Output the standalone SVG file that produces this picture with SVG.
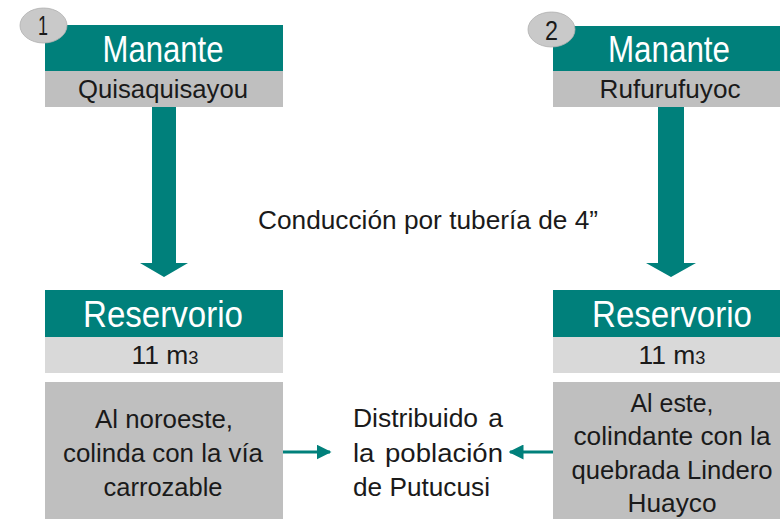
<svg xmlns="http://www.w3.org/2000/svg" width="780" height="519" viewBox="0 0 780 519">
<defs>
<style>
text{font-family:"Liberation Sans Narrow","Liberation Sans",Arial,sans-serif;fill:#1a1a1a}
.teal{fill:#00807b}
.g1{fill:#bfbfbf}
.g2{fill:#d9d9d9}
.title{font-size:36px;fill:#ffffff;text-anchor:middle}
.sub{font-size:26px;text-anchor:middle}
.body{font-size:26px;text-anchor:middle}
.left{text-anchor:start}
.num{font-size:27px;text-anchor:middle}
.badge{fill:#c9c9c9;stroke:#b0b0b0;stroke-width:0.8}
.conn{stroke:#00807b;stroke-width:3;fill:none}
</style>
<marker id="ah" viewBox="0 0 10 10" refX="9" refY="5" markerWidth="5" markerHeight="5" orient="auto" markerUnits="strokeWidth">
<path d="M0,0 L10,5 L0,10 z" fill="#00807b"/>
</marker>
</defs>

<g id="manante1">
<rect class="teal" x="45" y="25" width="238" height="46"/>
<rect class="g1" x="45" y="71" width="238" height="36"/>
<text class="title" x="163" y="62" textLength="121" lengthAdjust="spacingAndGlyphs">Manante</text>
<text class="sub" x="163" y="98" textLength="170" lengthAdjust="spacingAndGlyphs">Quisaquisayou</text>
</g>
<g id="badge1">
<ellipse class="badge" cx="43.5" cy="25.5" rx="23.5" ry="17.5"/>
<text class="num" x="43" y="35" textLength="10" lengthAdjust="spacingAndGlyphs">1</text>
</g>

<g id="manante2">
<rect class="teal" x="553" y="26" width="240" height="45"/>
<rect class="g1" x="553" y="71" width="240" height="36"/>
<text class="title" x="669" y="62" textLength="122" lengthAdjust="spacingAndGlyphs">Manante</text>
<text class="sub" x="670" y="98" textLength="141" lengthAdjust="spacingAndGlyphs">Rufurufuyoc</text>
</g>
<g id="badge2">
<ellipse class="badge" cx="551.5" cy="29.5" rx="23.5" ry="17.5"/>
<text class="num" x="551.5" y="40" textLength="13" lengthAdjust="spacingAndGlyphs">2</text>
</g>

<g id="reservorio1">
<rect class="teal" x="45" y="290" width="238" height="47"/>
<rect class="g2" x="45" y="337" width="238" height="36"/>
<text class="title" x="163" y="327" textLength="160" lengthAdjust="spacingAndGlyphs">Reservorio</text>
<text class="sub" x="165" y="364" textLength="67" lengthAdjust="spacingAndGlyphs">11 m<tspan font-size="18">3</tspan></text>
</g>

<g id="reservorio2">
<rect class="teal" x="553" y="290" width="240" height="47"/>
<rect class="g2" x="553" y="337" width="240" height="36"/>
<text class="title" x="672" y="327" textLength="160" lengthAdjust="spacingAndGlyphs">Reservorio</text>
<text class="sub" x="672" y="364" textLength="67" lengthAdjust="spacingAndGlyphs">11 m<tspan font-size="18">3</tspan></text>
</g>

<g id="ubicacion1">
<rect class="g1" x="45" y="382" width="238" height="137"/>
<text class="body" x="164" y="428" textLength="138" lengthAdjust="spacingAndGlyphs">Al noroeste,</text>
<text class="body" x="163" y="462" textLength="200" lengthAdjust="spacingAndGlyphs">colinda con la vía</text>
<text class="body" x="163" y="496" textLength="119" lengthAdjust="spacingAndGlyphs">carrozable</text>
</g>

<g id="ubicacion2">
<rect class="g1" x="553" y="382" width="240" height="137"/>
<text class="body" x="672" y="412" textLength="83" lengthAdjust="spacingAndGlyphs">Al este,</text>
<text class="body" x="672" y="445" textLength="197" lengthAdjust="spacingAndGlyphs">colindante con la</text>
<text class="body" x="672" y="479" textLength="201" lengthAdjust="spacingAndGlyphs">quebrada Lindero</text>
<text class="body" x="672" y="512" textLength="89" lengthAdjust="spacingAndGlyphs">Huayco</text>
</g>

<g id="poblacion">
<text class="body left" x="353" y="427" textLength="150" lengthAdjust="spacingAndGlyphs">Distribuido<tspan dx="10">a</tspan></text>
<text class="body left" x="353" y="462" textLength="150" lengthAdjust="spacingAndGlyphs">la<tspan dx="10">población</tspan></text>
<text class="body left" x="353" y="496" textLength="137" lengthAdjust="spacingAndGlyphs">de Putucusi</text>
</g>

<g id="etiqueta">
<text class="body" x="428" y="229" textLength="340" lengthAdjust="spacingAndGlyphs">Conducción por tubería de 4”</text>
</g>

<g id="connectors">
<path class="teal" d="M152,107 H176 V263 H188 L164,277 L140,263 H152 Z"/>
<path class="teal" d="M658,107 H684 V263 H696 L671,277 L646,263 H658 Z"/>
<line class="conn" x1="283" y1="452" x2="330" y2="452" marker-end="url(#ah)"/>
<line class="conn" x1="553" y1="452" x2="510" y2="452" marker-end="url(#ah)"/>
</g>
</svg>
